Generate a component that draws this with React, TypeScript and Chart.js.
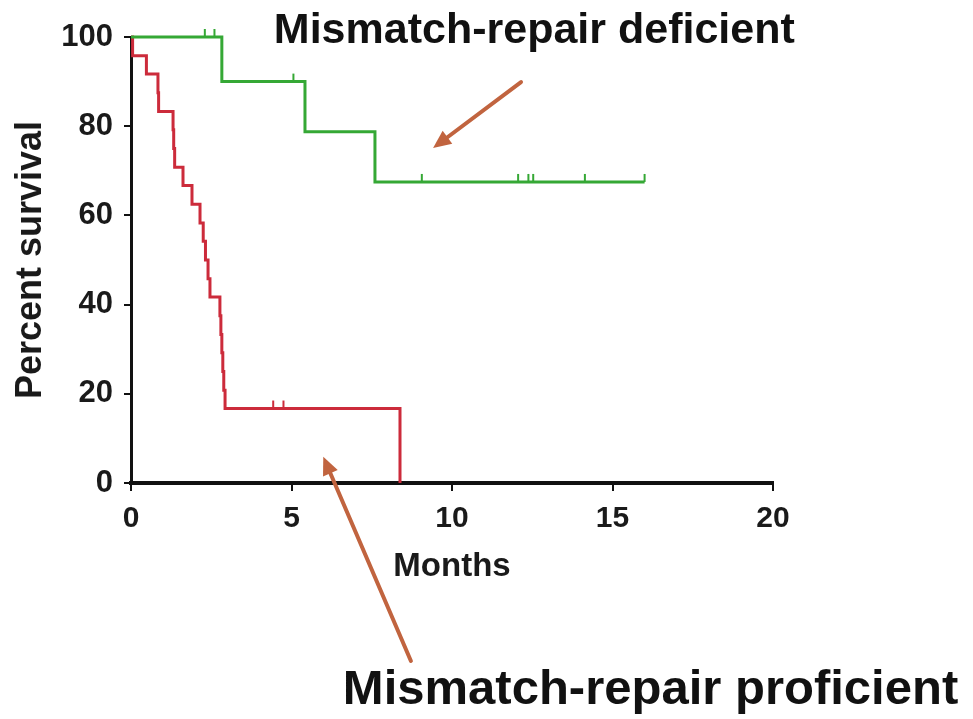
import React, { useEffect, useRef } from 'react';
import { Chart, registerables } from 'chart.js';

Chart.register(...registerables);

// ---- Data (Kaplan–Meier step curves, months vs percent survival) ----
const deficientTimes = [0, 2.83, 5.42, 7.6, 16.0];
const deficientSurvival = [100, 90, 78.75, 67.5, 67.5];
const deficientCensored = [2.3, 2.6, 5.06, 9.06, 12.06, 12.38, 12.53, 14.14, 16.0];

const proficientTimes = [0, 0.05, 0.48, 0.84, 0.86, 1.31, 1.33, 1.36, 1.62, 1.9, 2.15, 2.25, 2.32, 2.4, 2.46, 2.77, 2.8, 2.83, 2.86, 2.89, 2.93, 8.38];
const proficientSurvival = [100, 95.8, 91.7, 87.5, 83.3, 79.2, 75.0, 70.8, 66.7, 62.5, 58.3, 54.2, 50.0, 45.8, 41.7, 37.5, 33.3, 29.2, 25.0, 20.8, 16.7, 0];
const proficientCensored = [4.43, 4.75];

const xTicks = [0, 5, 10, 15, 20];
const yTicks = [0, 20, 40, 60, 80, 100];

const seriesLabels = ['Mismatch-repair deficient', 'Mismatch-repair proficient'];

// Annotation arrows in data units: [fromX, fromY, toX, toY]
const arrowDeficient = [12.15, 89.9, 9.41, 75.1];
const arrowProficient = [8.72, -39.9, 5.99, 5.9];
// Annotation text anchors in data units (left, baseline)
const textDeficient = [4.45, 98.6];
const textProficient = [6.6, -49.5];

const GREEN = '#35a835';
const RED = '#cc2b3b';
const ARROW = '#c1643f';
const FONT = '"Liberation Sans", Arial, sans-serif';

function survivalAt(times: number[], surv: number[], t: number): number {
  let s = surv[0];
  for (let i = 0; i < times.length; i++) {
    if (times[i] <= t) s = surv[i];
  }
  return s;
}

function toPoints(times: number[], surv: number[]) {
  return times.map((t, i) => ({ x: t, y: surv[i] }));
}

const censorPlugin = {
  id: 'censorTicks',
  afterDatasetsDraw(chart: any) {
    const { ctx, scales } = chart;
    const xs = scales.x;
    const ys = scales.y;
    const groups = [
      { times: deficientTimes, surv: deficientSurvival, cens: deficientCensored, color: GREEN },
      { times: proficientTimes, surv: proficientSurvival, cens: proficientCensored, color: RED },
    ];
    ctx.save();
    ctx.lineWidth = 2;
    groups.forEach((g) => {
      ctx.strokeStyle = g.color;
      g.cens.forEach((t) => {
        const px = xs.getPixelForValue(t);
        const py = ys.getPixelForValue(survivalAt(g.times, g.surv, t));
        ctx.beginPath();
        ctx.moveTo(px, py);
        ctx.lineTo(px, py - 8);
        ctx.stroke();
      });
    });
    ctx.restore();
  },
};

function drawArrow(ctx: CanvasRenderingContext2D, x1: number, y1: number, x2: number, y2: number) {
  const ang = Math.atan2(y2 - y1, x2 - x1);
  const headLen = 18;
  const headW = 8;
  const bx = x2 - headLen * Math.cos(ang);
  const by = y2 - headLen * Math.sin(ang);
  ctx.beginPath();
  ctx.moveTo(x1, y1);
  ctx.lineTo(bx, by);
  ctx.stroke();
  ctx.beginPath();
  ctx.moveTo(x2, y2);
  ctx.lineTo(bx + headW * Math.sin(ang), by - headW * Math.cos(ang));
  ctx.lineTo(bx - headW * Math.sin(ang), by + headW * Math.cos(ang));
  ctx.closePath();
  ctx.fill();
}

const annotationPlugin = {
  id: 'annotations',
  afterDraw(chart: any) {
    const { ctx, scales } = chart;
    const xs = scales.x;
    const ys = scales.y;
    const P = (x: number, y: number) => [xs.getPixelForValue(x), ys.getPixelForValue(y)];
    ctx.save();
    ctx.strokeStyle = ARROW;
    ctx.fillStyle = ARROW;
    ctx.lineWidth = 4;
    ctx.lineCap = 'round';
    [arrowDeficient, arrowProficient].forEach((a) => {
      const [x1, y1] = P(a[0], a[1]);
      const [x2, y2] = P(a[2], a[3]);
      drawArrow(ctx, x1, y1, x2, y2);
    });
    ctx.fillStyle = '#111';
    ctx.textAlign = 'left';
    ctx.textBaseline = 'alphabetic';
    const [tx1, ty1] = P(textDeficient[0], textDeficient[1]);
    ctx.font = `bold 43px ${FONT}`;
    ctx.fillText(seriesLabels[0], tx1, ty1);
    const [tx2, ty2] = P(textProficient[0], textProficient[1]);
    ctx.font = `bold 49px ${FONT}`;
    ctx.fillText(seriesLabels[1], tx2, ty2);
    ctx.restore();
  },
};

export default function App() {
  const ref = useRef<HTMLCanvasElement | null>(null);
  useEffect(() => {
    if (!ref.current) return;
    const chart = new Chart(ref.current, {
      type: 'line',
      data: {
        datasets: [
          {
            label: seriesLabels[0],
            data: toPoints(deficientTimes, deficientSurvival),
            borderColor: GREEN,
            borderWidth: 3,
            stepped: 'before',
            pointRadius: 0,
            fill: false,
            clip: false as any,
          },
          {
            label: seriesLabels[1],
            data: toPoints(proficientTimes, proficientSurvival),
            borderColor: RED,
            borderWidth: 3,
            stepped: 'before',
            pointRadius: 0,
            fill: false,
            clip: false as any,
          },
        ],
      },
      options: {
        responsive: false,
        animation: false,
        layout: { padding: { left: 0, top: 37, right: 200, bottom: 130 } },
        plugins: {
          legend: { display: false },
          tooltip: { enabled: false },
          title: { display: false },
        },
        scales: {
          x: {
            type: 'linear',
            min: 0,
            max: 20,
            afterFit: (s: any) => { s.height = 106; },
            afterBuildTicks: (s: any) => { s.ticks = xTicks.map((v) => ({ value: v })); },
            border: { display: true, color: '#111', width: 4 },
            grid: { display: true, drawOnChartArea: false, drawTicks: true, tickLength: 8, color: '#111', lineWidth: 2 },
            ticks: { color: '#1a1a1a', padding: 10, font: { family: FONT, size: 30, weight: 'bold' }, maxRotation: 0 },
            title: { display: true, text: 'Months', color: '#1a1a1a', padding: { top: 0, bottom: 2 }, font: { family: FONT, size: 33, weight: 'bold' } },
          },
          y: {
            type: 'linear',
            min: 0,
            max: 100,
            afterFit: (s: any) => { s.width = 131; },
            afterBuildTicks: (s: any) => { s.ticks = yTicks.map((v) => ({ value: v })); },
            border: { display: true, color: '#111', width: 3 },
            grid: { display: true, drawOnChartArea: false, drawTicks: true, tickLength: 7, color: '#111', lineWidth: 2 },
            ticks: { color: '#1a1a1a', padding: 11, font: { family: FONT, size: 31, weight: 'bold' } },
            title: { display: true, text: 'Percent survival', color: '#1a1a1a', padding: { top: 9, bottom: 0 }, font: { family: FONT, size: 36, weight: 'bold' } },
          },
        },
      },
      plugins: [censorPlugin, annotationPlugin],
    } as any);
    return () => chart.destroy();
  }, []);
  return (
    <div style={{ position: 'absolute', left: 0, top: 0, width: 973, height: 719, background: '#fff' }}>
      <canvas ref={ref} width={973} height={719} style={{ display: 'block' }} />
    </div>
  );
}
